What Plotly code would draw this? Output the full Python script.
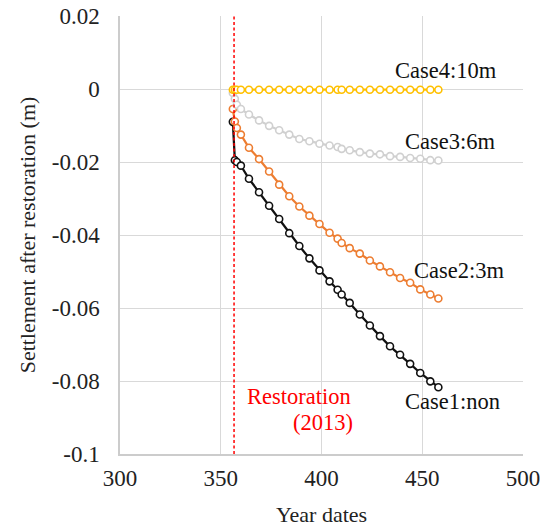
import plotly.graph_objects as go

# Data
x_days = [356, 357, 358, 360, 364, 369, 374, 379, 384, 389, 394, 399, 404,
          408, 410, 414, 419, 424, 429, 434, 439, 444, 449, 454, 458]

case1_non = [-0.0090, -0.0195, -0.0200, -0.0210, -0.0246, -0.0283, -0.0320, -0.0356,
             -0.0395, -0.0430, -0.0464, -0.0497, -0.0527, -0.0550, -0.0563, -0.0586,
             -0.0618, -0.0648, -0.0677, -0.0705, -0.0728, -0.0753, -0.0778, -0.0801, -0.0817]
case2_3m = [-0.0055, -0.0089, -0.0107, -0.0125, -0.0161, -0.0192, -0.0226, -0.0262,
            -0.0294, -0.0322, -0.0347, -0.0370, -0.0394, -0.0410, -0.0422, -0.0436,
            -0.0451, -0.0470, -0.0486, -0.0502, -0.0518, -0.0531, -0.0549, -0.0563, -0.0574]
case3_6m = [-0.0011, -0.0027, -0.0043, -0.0055, -0.0070, -0.0086, -0.0101, -0.0113,
            -0.0125, -0.0137, -0.0143, -0.0150, -0.0155, -0.0159, -0.0164, -0.0168,
            -0.0173, -0.0177, -0.0179, -0.0184, -0.0186, -0.0189, -0.0191, -0.0195, -0.0196]
case4_10m = [-0.0002] * len(x_days)

restoration_day = 356.6

series = [
    ("Case1:non", case1_non, "#111111"),
    ("Case2:3m", case2_3m, "#ED7D31"),
    ("Case3:6m", case3_6m, "#D0D0D0"),
    ("Case4:10m", case4_10m, "#FFC000"),
]

FONT = "'Liberation Serif', 'Times New Roman', serif"

fig = go.Figure()
for name, vals, color in series:
    fig.add_trace(go.Scatter(
        x=x_days, y=vals, mode="lines+markers", name=name,
        line=dict(color=color, width=2.25),
        marker=dict(symbol="circle", size=7, color="white",
                    line=dict(color=color, width=1.6)),
        showlegend=False,
    ))

fig.add_shape(type="line", xref="x", yref="paper", x0=restoration_day, x1=restoration_day,
              y0=0, y1=1, line=dict(color="#FF0000", width=1.5, dash="3px,2.5px"))

labels = [
    ("Case4:10m", 435.5, 0.0050, "#111111", "left"),
    ("Case3:6m", 440.4, -0.0144, "#111111", "left"),
    ("Case2:3m", 444.9, -0.0498, "#111111", "left"),
    ("Case1:non", 440.2, -0.0857, "#111111", "left"),
    ("Restoration", 362.0, -0.0843, "#FF0000", "left"),
    ("(2013)", 416.6, -0.0914, "#FF0000", "right"),
]
for text, ax, ay, col, anchor in labels:
    fig.add_annotation(x=ax, y=ay, xref="x", yref="y", text=text, showarrow=False,
                       xanchor=anchor, yanchor="middle",
                       font=dict(family=FONT, size=22.5, color=col))

fig.update_layout(
    width=551, height=532,
    margin=dict(l=120, r=28, t=16, b=78),
    paper_bgcolor="white", plot_bgcolor="white",
    font=dict(family=FONT, size=22, color="#222222"),
)
fig.update_xaxes(
    range=[300, 500], tickvals=[300, 350, 400, 450, 500],
    showgrid=True, gridcolor="#D9D9D9", gridwidth=1,
    showline=True, linecolor="#CCCCCC", linewidth=1.5, mirror=False,
    zeroline=False, ticks="", ticklabelstandoff=3, automargin=False,
    tickfont=dict(family=FONT, size=23, color="#222222"),
    title=dict(text="Year dates", font=dict(family=FONT, size=22, color="#222222"), standoff=16),
)
fig.update_yaxes(
    range=[-0.1, 0.02], tickvals=[0.02, 0, -0.02, -0.04, -0.06, -0.08, -0.1],
    ticktext=["0.02", "0", "-0.02", "-0.04", "-0.06", "-0.08", "-0.1"],
    showgrid=True, gridcolor="#D9D9D9", gridwidth=1,
    showline=True, linecolor="#CCCCCC", linewidth=1.5,
    zeroline=False, ticks="", ticklabelstandoff=14, automargin=False,
    tickfont=dict(family=FONT, size=23, color="#222222"),
    title=dict(text="Settlement after restoration (m)", font=dict(family=FONT, size=22, color="#222222"), standoff=10),
)

fig.write_html("out.html")
